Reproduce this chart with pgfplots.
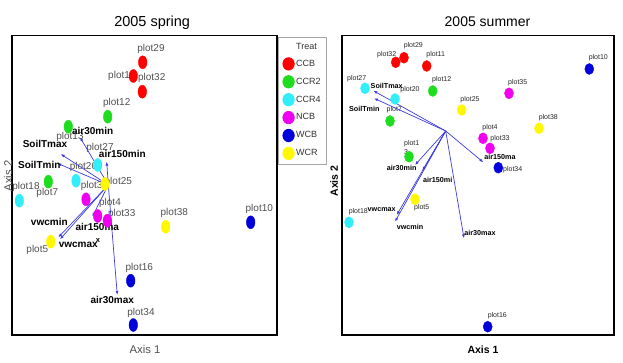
\documentclass[border=0pt]{standalone}
\usepackage{fontspec}
\setmainfont{Liberation Sans}
\usepackage{pgfplots}
\pgfplotsset{compat=1.18}
\usetikzlibrary{arrows.meta}

\definecolor{cCCB}{RGB}{255,0,0}
\definecolor{cCCRtwo}{RGB}{30,220,30}
\definecolor{cCCRfour}{RGB}{50,238,248}
\definecolor{cNCB}{RGB}{240,0,240}
\definecolor{cWCB}{RGB}{0,0,220}
\definecolor{cWCR}{RGB}{255,248,0}
\definecolor{arrowc}{RGB}{60,60,225}
\definecolor{labgray}{RGB}{80,80,80}

\pgfplotsset{
  panel/.style={scale only axis, y dir=reverse, clip=false,
    xtick=\empty, ytick=\empty,
    axis line style={line width=1.5pt, black}},
  dotL/.style={only marks, mark=*, mark size=6.5pt, color=#1,
    mark options={xscale=0.66, draw=none, fill=#1},
    legend image code/.code={\fill[#1] (0pt,0pt) ellipse (5.7pt and 6.2pt);}},
  dotR/.style={only marks, mark=*, mark size=5.5pt, color=#1,
    mark options={xscale=0.82, draw=none, fill=#1}, forget plot},
  vec/.style={forget plot, no marks, color=arrowc, line width=0.7pt,
    -{Latex[length=4pt,width=3pt]}},
}
\tikzset{
  lblL/.style={font=\fontsize{10}{12}\selectfont, text=labgray, inner sep=0pt},
  bL/.style={font=\fontsize{10}{12}\selectfont\bfseries, text=black, inner sep=0pt},
  lblR/.style={font=\fontsize{7}{8}\selectfont, text=black!85, inner sep=0pt},
  bR/.style={font=\fontsize{7.2}{8}\selectfont\bfseries, text=black, inner sep=0pt},
}

\begin{document}
\begin{tikzpicture}[x=1pt,y=1pt]
\path[use as bounding box] (0,0) rectangle (623,363);

% ---------------- LEFT PANEL: 2005 spring ----------------
\begin{axis}[panel, at={(12pt,28pt)}, anchor=south west,
  width=265pt, height=299.5pt, xmin=12, xmax=277, ymin=35.5, ymax=335,
  legend style={at={(1.004,0.995)}, anchor=north west, draw=gray!70,
    line width=0.8pt, fill=white, font=\fontsize{9}{10}\selectfont,
    text=black!80, row sep=4.7pt, inner xsep=4pt, inner ysep=4.5pt,
    nodes={inner sep=1.5pt, anchor=west}, cells={anchor=west}}]

% point labels (beneath the dots)
\node[lblL] at (axis cs:151,49) {plot29};
\node[lblL] at (axis cs:121.5,76) {plot11};
\node[lblL] at (axis cs:151.7,78.3) {plot32};
\node[lblL] at (axis cs:116.7,102.7) {plot12};
\node[lblL] at (axis cs:70,137.3) {plot13};
\node[lblL] at (axis cs:100,147.7) {plot27};
\node[lblL] at (axis cs:83.5,166.7) {plot20};
\node[lblL] at (axis cs:47.3,193.3) {plot7};
\node[lblL] at (axis cs:26,187.3) {plot18};
\node[lblL] at (axis cs:94.5,185.7) {plot35};
\node[lblL] at (axis cs:118.3,181.7) {plot25};
\node[lblL] at (axis cs:110,203.3) {plot4};
\node[lblL] at (axis cs:121.7,214) {plot33};
\node[lblL] at (axis cs:174.3,213.3) {plot38};
\node[lblL] at (axis cs:259.3,209) {plot10};
\node[lblL] at (axis cs:37.3,250) {plot5};
\node[lblL] at (axis cs:139.3,267.7) {plot16};
\node[lblL] at (axis cs:141,312.7) {plot34};

\addlegendimage{empty legend}
\addlegendentry{Treat}
\addplot[dotL=cCCB] coordinates {(142.7,62.3) (133.3,76) (142.3,91.7)};
\addlegendentry{CCB}
\addplot[dotL=cCCRtwo] coordinates {(107.7,116.7) (68.3,126.7) (48.3,181.7)};
\addlegendentry{CCR2}
\addplot[dotL=cCCRfour] coordinates {(97.7,165) (76,180.7) (19.3,200.7)};
\addlegendentry{CCR4}
\addplot[dotL=cNCB] coordinates {(86,199.3) (97.7,216) (107.3,220.7)};
\addlegendentry{NCB}
\addplot[dotL=cWCB] coordinates {(250.7,222.3) (130.7,280.7) (133.3,325)};
\addlegendentry{WCB}
\addplot[dotL=cWCR] coordinates {(105,184) (165.7,226.7) (50.7,241.7)};
\addlegendentry{WCR}

% vectors
\addplot[vec] coordinates {(108.3,185) (80,137.3)};
\addplot[vec] coordinates {(108.3,185) (60.7,154)};
\addplot[vec] coordinates {(108.3,185) (57.3,163.3)};
\addplot[vec] coordinates {(108.3,185) (106.7,161.7)};
\addplot[vec] coordinates {(108.3,185) (92.3,216.7)};
\addplot[vec] coordinates {(108.3,185) (58.3,237.3)};
\addplot[vec] coordinates {(108.3,185) (60,239.3)};
\addplot[vec] coordinates {(108.3,185) (117.3,295)};

\node[bL] at (axis cs:92.7,130.7) {air30min};
\node[bL] at (axis cs:45,144) {SoilTmax};
\node[bL] at (axis cs:39.3,165) {SoilTmin};
\node[bL] at (axis cs:122.3,154) {air150min};
\node[bL] at (axis cs:97.3,226.7) {air150ma};
\node[bL] at (axis cs:49.3,221.7) {vwcmin};
\node[bL] at (axis cs:78.3,245) {vwcmax};
\node[bL, font=\fontsize{7.5}{8}\selectfont\bfseries] at (axis cs:98,240.5) {x};
\node[bL] at (axis cs:112.3,300) {air30max};

% titles
\node[font=\fontsize{14.5}{17}\selectfont, anchor=base] at (axis cs:152.2,26.7) {2005 spring};
\node[font=\fontsize{11.3}{13}\selectfont, text=labgray, anchor=base] at (axis cs:145,353) {Axis 1};
\node[font=\fontsize{11.3}{13}\selectfont, text=labgray, rotate=90] at (axis cs:8,176) {Axis 2};
\end{axis}

% ---------------- RIGHT PANEL: 2005 summer ----------------
\begin{axis}[panel, at={(342pt,28pt)}, anchor=south west,
  width=272pt, height=299.5pt, xmin=342, xmax=614, ymin=35.5, ymax=335]

\node[lblR] at (axis cs:386.7,55) {plot32};
\node[lblR] at (axis cs:413.3,46) {plot29};
\node[lblR] at (axis cs:435.7,55) {plot11};
\node[lblR] at (axis cs:598.3,57.3) {plot10};
\node[lblR] at (axis cs:356.7,79) {plot27};
\node[lblR] at (axis cs:410,90) {plot20};
\node[lblR] at (axis cs:441.7,80) {plot12};
\node[lblR] at (axis cs:517.7,82.3) {plot35};
\node[lblR] at (axis cs:470,99.3) {plot25};
\node[lblR] at (axis cs:394.3,110) {plot7};
\node[lblR] at (axis cs:548.3,117.3) {plot38};
\node[lblR] at (axis cs:490,127.3) {plot4};
\node[lblR] at (axis cs:500,138.3) {plot33};
\node[lblR] at (axis cs:512.7,170) {plot34};
\node[lblR] at (axis cs:411.7,143.3) {plot1};
\node[lblR] at (axis cs:406,151.7) {3};
\node[lblR] at (axis cs:421.7,207.7) {plot5};
\node[lblR] at (axis cs:358.3,211.7) {plot18};
\node[lblR] at (axis cs:497.3,315.7) {plot16};

\addplot[dotR=cCCB] coordinates {(395.7,62.3) (404,57.7) (426.7,66)};
\addplot[dotR=cCCRtwo] coordinates {(432.7,91) (390,121) (409,156.7)};
\addplot[dotR=cCCRfour] coordinates {(365,88.3) (395,99) (349,222.3)};
\addplot[dotR=cNCB] coordinates {(509,93.3) (483,138.3) (490,148.3)};
\addplot[dotR=cWCB] coordinates {(589.3,69) (498.3,167.7) (487.7,326.7)};
\addplot[dotR=cWCR] coordinates {(461.7,110) (539,128.3) (415,199.3)};

\addplot[vec] coordinates {(445.7,131) (373.3,90.7)};
\addplot[vec] coordinates {(445.7,131) (374,98.3)};
\addplot[vec] coordinates {(445.7,131) (483.3,162.3)};
\addplot[vec] coordinates {(445.7,131) (415,165)};
\addplot[vec] coordinates {(445.7,131) (422.3,170.7)};
\addplot[vec] coordinates {(445.7,131) (396.7,215)};
\addplot[vec] coordinates {(445.7,131) (395,221.7)};
\addplot[vec] coordinates {(445.7,131) (464,238.3)};

\node[bR] at (axis cs:386.7,86) {SoilTmax};
\node[bR] at (axis cs:364.3,109.3) {SoilTmin};
\node[bR] at (axis cs:500,156.7) {air150ma};
\node[bR] at (axis cs:401.7,168.3) {air30min};
\node[bR] at (axis cs:437.7,180) {air150mi};
\node[bR] at (axis cs:381.7,210) {vwcmax};
\node[bR] at (axis cs:410,226.7) {vwcmin};
\node[bR] at (axis cs:480,232.7) {air30max};

\node[font=\fontsize{14}{17}\selectfont, anchor=base] at (axis cs:487.5,27) {2005 summer};
\node[font=\fontsize{10.5}{13}\selectfont\bfseries, anchor=base] at (axis cs:483,353) {Axis 1};
\node[font=\fontsize{10.5}{13}\selectfont\bfseries, rotate=90] at (axis cs:334,181) {Axis 2};
\end{axis}
\end{tikzpicture}
\end{document}
